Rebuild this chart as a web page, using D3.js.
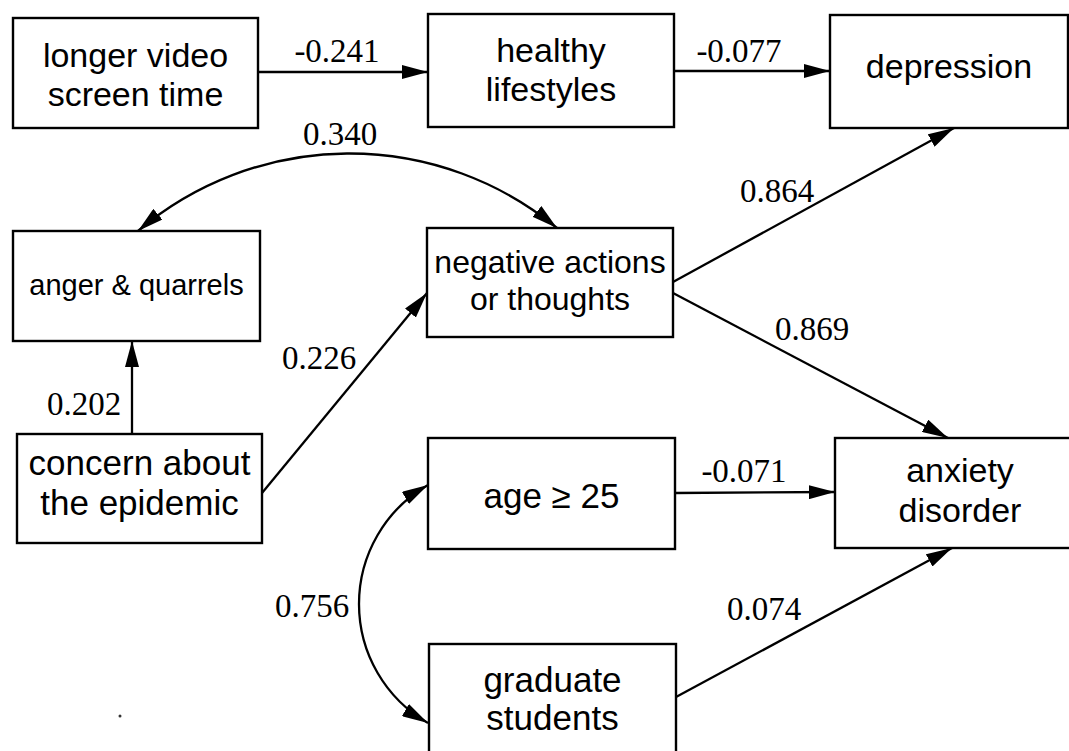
<!DOCTYPE html>
<html>
<head>
<meta charset="utf-8">
<script src="https://cdn.jsdelivr.net/npm/d3@7"></script>
<style>
  body { margin: 0; background: #fff; }
</style>
</head>
<body>
<script>
// variables of the path model
const nodes = ["video", "healthy", "depression", "anger", "negative", "concern", "age", "anxiety", "graduate"];
const nodeText = [
  ["longer video", "screen time"],
  ["healthy", "lifestyles"],
  ["depression"],
  ["anger & quarrels"],
  ["negative actions", "or thoughts"],
  ["concern about", "the epidemic"],
  ["age \u2265 25"],
  ["anxiety", "disorder"],
  ["graduate", "students"]
];

// directed paths with their coefficients
const pathFrom = ["video", "healthy", "concern", "concern", "negative", "negative", "age", "graduate"];
const pathTo   = ["healthy", "depression", "anger", "negative", "depression", "anxiety", "anxiety", "anxiety"];
const pathCoef = ["-0.241", "-0.077", "0.202", "0.226", "0.864", "0.869", "-0.071", "0.074"];

// correlations (double headed)
const corrA = ["anger", "age"];
const corrB = ["negative", "graduate"];
const corrCoef = ["0.340", "0.756"];

// ---- layout (pixels) ----
const W = 1069, H = 751;
const boxes = {
  video:      {x: 13,  y: 18,  w: 245, h: 110, fs: 34, base: [67, 106]},
  healthy:    {x: 428, y: 14,  w: 246, h: 113, fs: 34, base: [62, 101]},
  depression: {x: 830, y: 15,  w: 238, h: 113, fs: 34, base: [78]},
  anger:      {x: 13,  y: 231, w: 247, h: 110, fs: 29, base: [295]},
  negative:   {x: 427, y: 228, w: 246, h: 109, fs: 32, base: [273, 310]},
  concern:    {x: 17,  y: 434, w: 245, h: 109, fs: 35, base: [475, 515]},
  age:        {x: 428, y: 438, w: 247, h: 111, fs: 35, base: [508]},
  anxiety:    {x: 835, y: 438, w: 250, h: 110, fs: 34, base: [482, 522]},
  graduate:   {x: 429, y: 644, w: 247, h: 130, fs: 35, base: [692, 730]}
};
// end points of each path, in the same order as pathFrom
const pathPts = [
  [[258, 72], [428, 72]],
  [[674, 71], [830, 71]],
  [[132, 434], [132, 341]],
  [[262, 493], [427, 293]],
  [[673, 282], [954, 128]],
  [[673, 293], [948, 438]],
  [[675, 493], [835, 492]],
  [[676, 697], [952, 548]]
];
const pathLabelPos = [[337, 62], [739, 62], [84, 415], [319, 369], [777, 202], [812, 340], [744, 482], [764, 620]];
const corrPts = [[[138, 231], [557, 228]], [[428, 485], [428, 723]]];
const corrSag = [76, 69];
const corrSweep = [1, 0];
const corrLabelPos = [[340, 145], [312, 617]];

const svg = d3.select("body").append("svg")
  .attr("width", W)
  .attr("height", H)
  .style("display", "block");

svg.append("defs").append("marker")
  .attr("id", "arrow")
  .attr("viewBox", "0 0 26 14")
  .attr("refX", 26)
  .attr("refY", 7)
  .attr("markerUnits", "userSpaceOnUse")
  .attr("markerWidth", 26)
  .attr("markerHeight", 14)
  .attr("orient", "auto-start-reverse")
  .append("path")
  .attr("d", "M0,0 L26,7 L0,14 Z")
  .attr("fill", "#000");

// boxes
const nodeData = nodes.map((id, i) => Object.assign({id: id, lines: nodeText[i]}, boxes[id]));

const g = svg.selectAll(".node")
  .data(nodeData)
  .enter()
  .append("g")
  .attr("class", "node");

g.append("rect")
  .attr("x", d => d.x)
  .attr("y", d => d.y)
  .attr("width", d => d.w)
  .attr("height", d => d.h)
  .attr("fill", "#fff")
  .attr("stroke", "#000")
  .attr("stroke-width", 2.4);

g.each(function(d) {
  const sel = d3.select(this);
  d.lines.forEach((t, k) => {
    sel.append("text")
      .attr("x", d.x + d.w / 2)
      .attr("y", d.base[k])
      .attr("text-anchor", "middle")
      .style("font-family", "'Liberation Sans', Arial, sans-serif")
      .style("font-size", d.fs + "px")
      .attr("fill", "#000")
      .text(t);
  });
});

// directed paths
const pathData = pathFrom.map((f, i) => ({from: f, to: pathTo[i], coef: pathCoef[i], pts: pathPts[i], lab: pathLabelPos[i]}));

svg.selectAll(".path")
  .data(pathData)
  .enter()
  .append("path")
  .attr("class", "path")
  .attr("d", d => d3.line()(d.pts))
  .attr("fill", "none")
  .attr("stroke", "#000")
  .attr("stroke-width", 2.3)
  .attr("marker-end", "url(#arrow)");

// correlations as circular arcs
const corrData = corrA.map((a, i) => ({a: a, b: corrB[i], coef: corrCoef[i], pts: corrPts[i], sag: corrSag[i], sweep: corrSweep[i], lab: corrLabelPos[i]}));

svg.selectAll(".corr")
  .data(corrData)
  .enter()
  .append("path")
  .attr("class", "corr")
  .attr("d", d => {
    const [p, q] = d.pts;
    const half = Math.hypot(q[0] - p[0], q[1] - p[1]) / 2;
    const r = (half * half + d.sag * d.sag) / (2 * d.sag);
    return `M${p[0]},${p[1]} A${r},${r} 0 0 ${d.sweep} ${q[0]},${q[1]}`;
  })
  .attr("fill", "none")
  .attr("stroke", "#000")
  .attr("stroke-width", 2.3)
  .attr("marker-start", "url(#arrow)")
  .attr("marker-end", "url(#arrow)");

// coefficient labels
svg.selectAll(".coef")
  .data(pathData.concat(corrData))
  .enter()
  .append("text")
  .attr("class", "coef")
  .attr("x", d => d.lab[0])
  .attr("y", d => d.lab[1])
  .attr("text-anchor", "middle")
  .style("font-family", "'Liberation Serif', 'Times New Roman', serif")
  .style("font-size", "33px")
  .attr("fill", "#000")
  .text(d => d.coef);

// small speck in the original scan
svg.append("circle")
  .attr("cx", 120)
  .attr("cy", 716)
  .attr("r", 1.5)
  .attr("fill", "#333");
</script>
</body>
</html>
